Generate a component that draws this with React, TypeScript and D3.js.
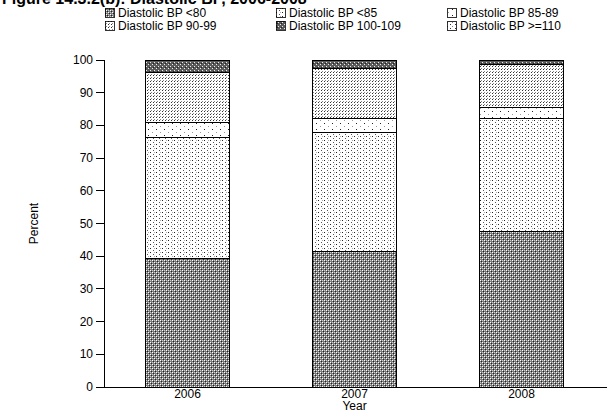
import React from "react";
import * as d3 from "d3";

// Survey years and diastolic BP categories (percent of respondents)
const years = ["2006", "2007", "2008"];
const categories = [
  "Diastolic BP <80",
  "Diastolic BP <85",
  "Diastolic BP 85-89",
  "Diastolic BP 90-99",
  "Diastolic BP 100-109",
  "Diastolic BP >=110",
];
const bp80 = [39.2, 41.5, 47.5];
const bp85 = [37.2, 36.4, 34.7];
const bp85to89 = [4.5, 4.3, 3.4];
const bp90to99 = [15.3, 15.3, 13.0];
const bp100to109 = [3.5, 2.2, 1.1];
const bp110 = [0.3, 0.3, 0.3];
const yTicks = [0, 10, 20, 30, 40, 50, 60, 70, 80, 90, 100];

const seriesValues = [bp80, bp85, bp85to89, bp90to99, bp100to109, bp110];
const patternIds = ["pDark", "pLight1", "pSparse", "pDense", "pDark2", "pLight2"];

const W = 607;
const H = 414;
const margin = { left: 104, right: 0, top: 60, bottom: 27 };

export default function App() {
  const rows = years.map((y, i) => {
    const r: Record<string, number | string> = { year: y };
    categories.forEach((c, k) => (r[c] = seriesValues[k][i]));
    return r;
  });
  const stack = d3.stack<Record<string, number | string>>().keys(categories);
  const layers = stack(rows as any);

  const x = d3
    .scaleBand()
    .domain(years)
    .range([margin.left + 0, W - 2])
    .paddingInner(0.5)
    .paddingOuter(0.25);
  const y = d3.scaleLinear().domain([0, 100]).range([H - margin.bottom, margin.top]);

  const font = "Liberation Sans, Arial, Helvetica, sans-serif";
  const legendCols = [105, 276, 447];
  const legendRows = [13, 26];

  return (
    <svg width={W} height={H} style={{ position: "absolute", left: 0, top: 0, background: "#fff" }} shapeRendering="crispEdges">
      <defs>
        <pattern id="pDark" width={4} height={4} patternUnits="userSpaceOnUse">
          <rect width={4} height={4} fill="#7a7a7a" />
          <rect x={0} y={0} width={1} height={1} fill="#fff" />
          <rect x={2} y={2} width={1} height={1} fill="#fff" />
          <rect x={1} y={1} width={1} height={1} fill="#222" />
          <rect x={3} y={3} width={1} height={1} fill="#222" />
          <rect x={2} y={0} width={1} height={1} fill="#ccc" />
          <rect x={0} y={2} width={1} height={1} fill="#ccc" />
        </pattern>
        <pattern id="pDark2" width={4} height={4} patternUnits="userSpaceOnUse">
          <rect width={4} height={4} fill="#5a5a5a" />
          <rect x={0} y={0} width={1} height={1} fill="#eee" />
          <rect x={2} y={2} width={1} height={1} fill="#eee" />
          <rect x={1} y={3} width={1} height={1} fill="#222" />
        </pattern>
        <pattern id="pLight1" width={6} height={4} patternUnits="userSpaceOnUse">
          <rect width={6} height={4} fill="#fff" />
          <rect x={0} y={0} width={1} height={1} fill="#222" />
          <rect x={3} y={2} width={1} height={1} fill="#555" />
          <rect x={4} y={0} width={1} height={1} fill="#aaa" />
        </pattern>
        <pattern id="pSparse" width={8} height={6} patternUnits="userSpaceOnUse">
          <rect width={8} height={6} fill="#fff" />
          <rect x={0} y={0} width={1} height={1} fill="#999" />
          <rect x={4} y={3} width={1} height={1} fill="#222" />
        </pattern>
        <pattern id="pDense" width={3} height={3} patternUnits="userSpaceOnUse">
          <rect width={3} height={3} fill="#fff" />
          <rect x={0} y={0} width={1} height={1} fill="#333" />
          <rect x={1} y={2} width={1} height={1} fill="#888" />
        </pattern>
        <pattern id="pLight2" width={5} height={4} patternUnits="userSpaceOnUse">
          <rect width={5} height={4} fill="#fff" />
          <rect x={0} y={0} width={1} height={1} fill="#333" />
          <rect x={2} y={2} width={1} height={1} fill="#888" />
        </pattern>
      </defs>

      {/* Title */}
      <text x={2} y={4} fontFamily={font} fontWeight="bold" fontSize={16}>
        Figure 14.3.2(b): Diastolic BP, 2006-2008
      </text>

      {/* Legend */}
      {categories.map((c, k) => {
        const cx = legendCols[k % 3];
        const cy = legendRows[Math.floor(k / 3)];
        return (
          <g key={c}>
            <rect x={cx} y={cy - 5} width={9} height={9} fill={`url(#${patternIds[k]})`} stroke="#000" strokeWidth={0.8} />
            <text x={cx + 13} y={cy + 4} fontFamily={font} fontSize={12}>
              {c}
            </text>
          </g>
        );
      })}

      {/* Bars */}
      {layers.map((layer, k) => (
        <g key={categories[k]}>
          {layer.map((d, i) => (
            <rect
              key={years[i]}
              x={x(years[i])!}
              y={y(d[1])}
              width={x.bandwidth()}
              height={y(d[0]) - y(d[1])}
              fill={`url(#${patternIds[k]})`}
              stroke="#000"
              strokeWidth={1}
            />
          ))}
        </g>
      ))}

      {/* Y axis */}
      <line x1={margin.left} x2={margin.left} y1={y(0)} y2={y(100)} stroke="#000" />
      {yTicks.map((t) => (
        <g key={t}>
          <line x1={margin.left - 8} x2={margin.left} y1={y(t)} y2={y(t)} stroke="#000" />
          <text x={margin.left - 11} y={y(t) + 4} textAnchor="end" fontFamily={font} fontSize={12}>
            {t}
          </text>
        </g>
      ))}
      <text transform={`translate(38,${(y(0) + y(100)) / 2}) rotate(-90)`} textAnchor="middle" fontFamily={font} fontSize={12}>
        Percent
      </text>

      {/* X axis */}
      <line x1={margin.left} x2={W} y1={y(0)} y2={y(0)} stroke="#000" />
      {years.map((yr) => (
        <text key={yr} x={x(yr)! + x.bandwidth() / 2} y={y(0) + 11} textAnchor="middle" fontFamily={font} fontSize={12}>
          {yr}
        </text>
      ))}
      <text x={x("2007")! + x.bandwidth() / 2} y={y(0) + 23} textAnchor="middle" fontFamily={font} fontSize={12}>
        Year
      </text>
    </svg>
  );
}
